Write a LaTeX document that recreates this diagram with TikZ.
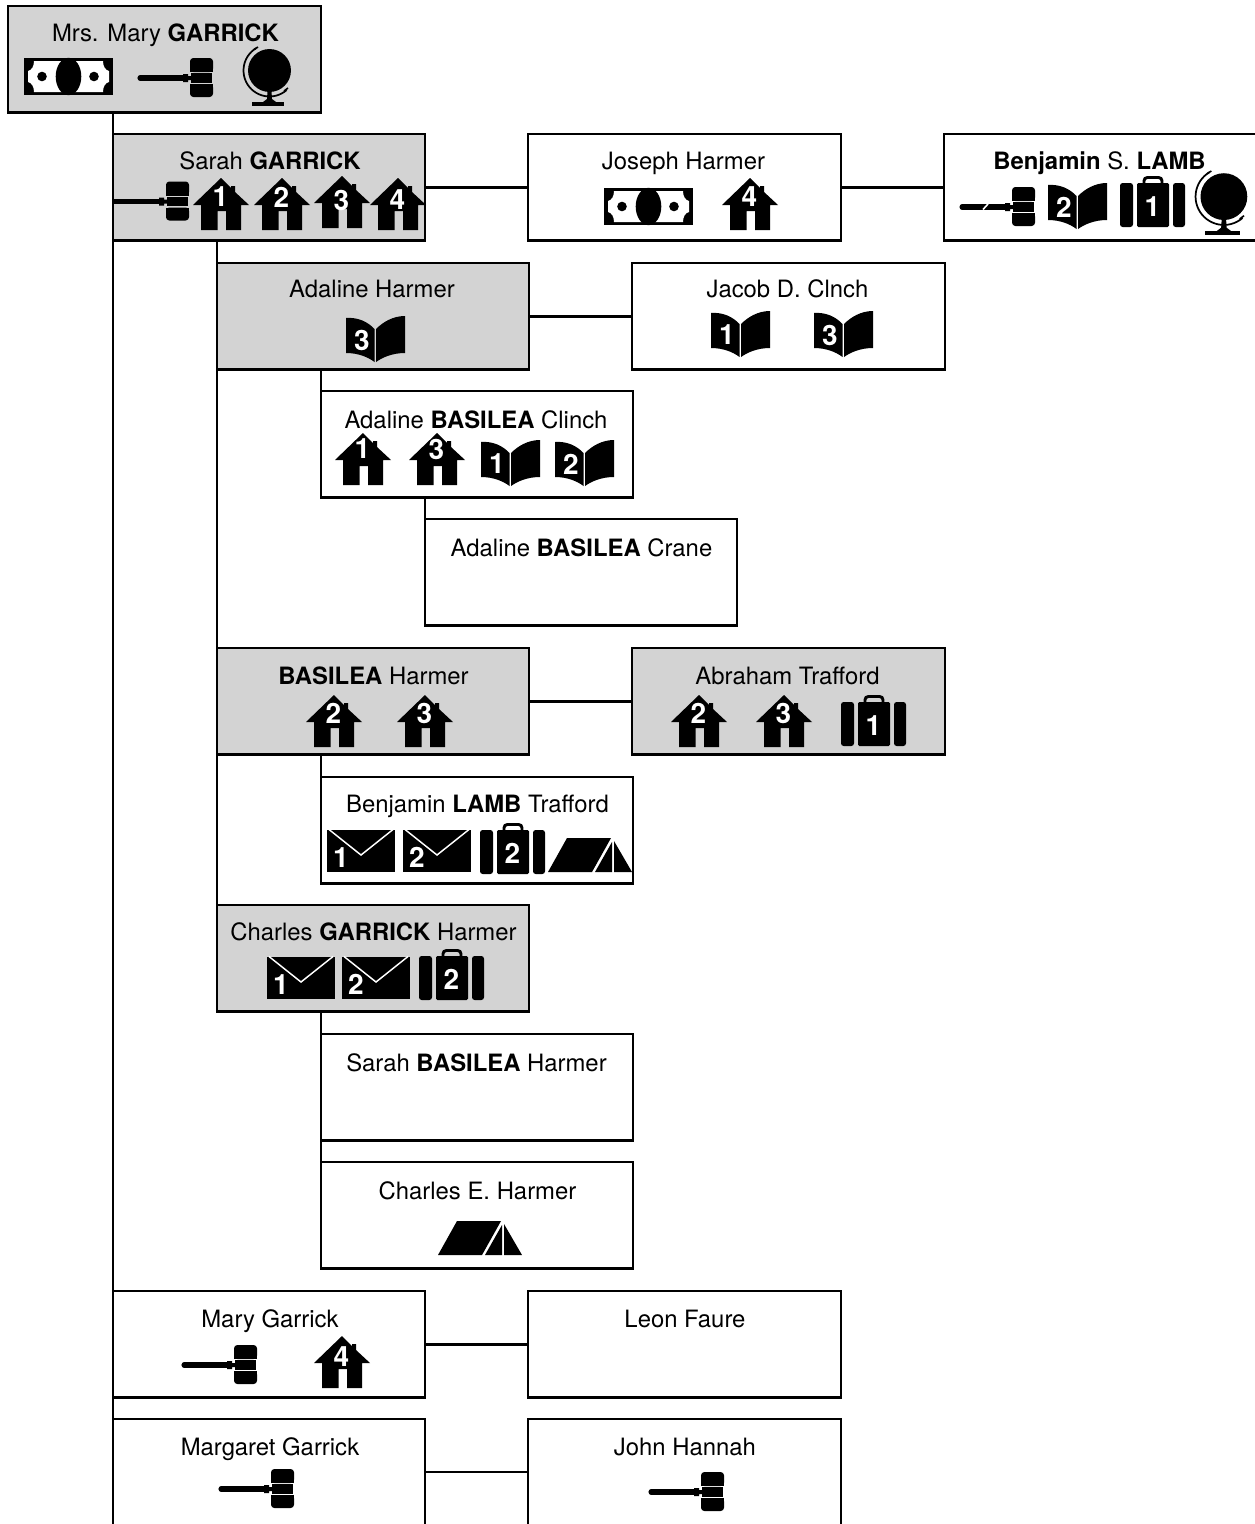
\documentclass[tikz,border=0pt]{standalone}
\usepackage{fontspec}
\setmainfont{TeX Gyre Heros}
\usetikzlibrary{calc}
\definecolor{boxgray}{HTML}{D3D3D3}
\newcommand{\hy}{21}
\tikzset{
  x=0.75pt,y=-0.75pt,
  person/.style={draw=black,line width=1.9pt,fill=white,anchor=north west,inner sep=0pt,outer sep=0pt,minimum width=234pt,minimum height=80pt},
  shaded/.style={fill=boxgray},
  wide/.style={minimum width=234.7pt},
  tall/.style={minimum height=96pt},
  nm/.style={anchor=base,inner sep=0pt,font=\fontsize{17.9}{20}\selectfont},
  num/.style={text=white,inner sep=0pt,font=\fontsize{21}{23}\selectfont\bfseries},
  link/.style={draw=black,line width=1.9pt},
  gavelicon/.pic={
    \draw[black,line width=3.8pt,line cap=round] (2,20)--(47,20);
    \fill[black] (45,16)--(50,16)--(50,18)--(53,18)--(53,22)--(50,22)--(50,24)--(45,24)--cycle;
    \fill[black,rounded corners=2.5pt] (52,14)--(52,0)--(75,0)--(75,14)--cycle;
    \fill[black,rounded corners=2.5pt] (52,26)--(52,39)--(75,39)--(75,26)--cycle;
    \fill[black] (53,15.2) rectangle (74,24.8);
    \fill[black] (52,8) rectangle (75,14);
    \fill[black] (52,26) rectangle (75,32);
  },
  houseicon/.pic={
    \fill[black] (28,0)--(38,10)--(38,8)--(42,8)--(42,14)--(56,27)--(48,27)--(48,52)--(33,52)--(33,33)--(24.5,33)--(24.5,52)--(8,52)--(8,27)--(0,27)--cycle;
    \node[num] (num) at (27.5,\hy) {#1};
  },
  bookicon/.pic={
    \fill[black] (0,2) .. controls (12,1) and (22,6) .. (28.5,13)--(28.5,46) .. controls (22,41) and (12,37) .. (0,37)--cycle;
    \fill[black] (59,0) .. controls (47,0) and (37,6) .. (30,13)--(30,46) .. controls (37,41) and (47,37) .. (59,37)--cycle;
    \node[num] (num) at (16,24) {#1};
  },
  caseicon/.pic={
    \fill[black,rounded corners=2pt] (0,7) rectangle (13,51);
    \fill[black,rounded corners=2pt] (53,7) rectangle (65,51);
    \fill[black,rounded corners=1pt] (17,7) rectangle (49,51);
    \draw[black,line width=2.2pt,rounded corners=2.5pt] (24,8)--(24,1.5)--(42,1.5)--(42,8);
    \node[num] (num) at (32.5,30.5) {#1};
  },
  mailicon/.pic={
    \fill[black] (0,0) rectangle (68,42);
    \draw[white,line width=1.1pt] (2,-0.5)--(34,25)--(66,-0.5);
    \node[num,anchor=base] (num) at (14,37) {#1};
  },
  tenticon/.pic={
    \fill[black] (0,34)--(19,0)--(63,0)--(44,34)--cycle;
    \fill[black] (64,4)--(64,34)--(47,34)--cycle;
    \fill[black] (66,3)--(84,34)--(66,34)--cycle;
  },
  moneyicon/.pic={
    \fill[black] (0,0) rectangle (89,37);
    \fill[white] (10,3)--(79,3) .. controls (79,8) and (81,12) .. (85,13)--(85,24) .. controls (81,25) and (79,29) .. (79,34)--(10,34) .. controls (10,29) and (8,25) .. (4,24)--(4,13) .. controls (8,12) and (10,8) .. (10,3)--cycle;
    \fill[black] (44.5,18.5) ellipse[x radius=9.6pt,y radius=14pt];
    \fill[black] (18,18.5) circle[radius=3.6pt];
    \fill[black] (70,18.5) circle[radius=3.6pt];
  },
  globeicon/.pic={
    \fill[black] (26.5,23.5) circle[radius=16.1pt];
    \draw[black,line width=1.3pt] plot[domain=49:239,samples=30] ({26.5+26*cos(\x)},{23.5+26*sin(\x)});
    \draw[black,line width=1.2pt] (11,2.5)--(15,0);
    \draw[black,line width=1.2pt] (41,44)--(45,41);
    \fill[black] (24.5,44)--(28.5,44)--(29,52)--(33,55)--(20,55)--(24,52)--cycle;
    \fill[black] (9,55) rectangle (41,59);
  }
}
\newcommand{\person}[6][]{%
  \node[person,#1] (#2) at (#3,#4) {};
  \node[nm] (#2t) at ($(#2.north)+(#6)$) {#5};
}
\newcommand{\hs}[4]{\renewcommand{\hy}{#4}\pic at (#1,#2) {houseicon=#3};}
\begin{document}
\begin{tikzpicture}
\useasboundingbox (0,0) rectangle (1255,1524);
\begin{scope}
\clip (0,0) rectangle (1255,1524);
% boxes
\person[shaded,wide]{mary}{8}{6}{Mrs. Mary \textbf{GARRICK}}{1,35}
\person[shaded]{sarah}{113}{134}{Sarah \textbf{GARRICK}}{1,35}
\person[wide]{joseph}{528}{134}{Joseph Harmer}{-1,35}
\person[wide]{benjamin}{944}{134}{\textbf{Benjamin} S. \textbf{LAMB}}{-1,35}
\person[shaded]{adaline}{217}{263}{Adaline Harmer}{-1,34}
\person[wide]{jacob}{632}{263}{Jacob D. Clnch}{-1,34}
\person{clinch}{321}{391}{Adaline \textbf{BASILEA} Clinch}{-1,37}
\person{crane}{425}{519}{Adaline \textbf{BASILEA} Crane}{0.5,37}
\person[shaded]{basilea}{217}{648}{\textbf{BASILEA} Harmer}{0.5,36}
\person[shaded,wide]{abraham}{632}{648}{Abraham Trafford}{-1,36}
\person{lamb}{321}{777}{Benjamin \textbf{LAMB} Trafford}{0.5,35}
\person[shaded]{charles}{217}{905}{Charles \textbf{GARRICK} Harmer}{0.5,35}
\person{sarahb}{321}{1034}{Sarah \textbf{BASILEA} Harmer}{-0.5,37}
\person{charlese}{321}{1162}{Charles E. Harmer}{0.5,37}
\person{maryg}{113}{1291}{Mary Garrick}{1,36}
\person[wide]{leon}{528}{1291}{Leon Faure}{0.5,36}
\person[tall]{margaret}{113}{1419}{Margaret Garrick}{1,36}
\person[tall,wide]{john}{528}{1419}{John Hannah}{0.5,36}
% connectors
\draw[link] (mary.south -| sarah.west) -- (margaret.south west);
\draw[link] (sarah.south -| adaline.west) -- (charles.north west);
\draw[link] (adaline.south -| clinch.west) -- (clinch.north west);
\draw[link] (basilea.south -| lamb.west) -- (lamb.north west);
\draw[link] (charles.south -| sarahb.west) -- (charlese.north west);
\draw[link] (clinch.south -| crane.west) -- (crane.north west);
\draw[link] (sarah.east) -- (joseph.west);
\draw[link] (joseph.east) -- (benjamin.west);
\draw[link] (adaline.east) -- (jacob.west);
\draw[link] (basilea.east) -- (abraham.west);
\draw[link] (maryg.east) -- (leon.west);
\draw[link] (margaret.east |- 0,1472) -- (john.west |- 0,1472);
% icons
\pic at (24,58) {moneyicon};
\pic at (138,58) {gavelicon};
\pic at (243,47) {globeicon};

\pic at (114,181.5) {gavelicon};
\draw[black,line width=4.4pt] (113,201.5)--(150,201.5);
\hs{193}{178}{1}{19}
\hs{254}{178}{2}{19}
\hs{314}{176}{3}{24}
\hs{370}{178}{4}{22}

\pic at (604,188) {moneyicon};
\hs{722}{178}{4}{19}

\pic at (960,187) {gavelicon};
\draw[white,line width=1.2pt] (983,209.5)--(988,204);
\pic at (1048,183) {bookicon=2};
\pic at (1120,176) {caseicon=1};
\pic[scale=1.09] at (1195,171) {globeicon};

\pic at (346,316) {bookicon=3};
\pic at (711,311) {bookicon=1};
\pic at (814,311) {bookicon=3};

\hs{335}{433}{1}{16}
\hs{409}{433}{3}{16}
\pic at (481,440) {bookicon=1};
\pic at (555,440) {bookicon=2};

\hs{306}{695}{2}{18}
\hs{397}{695}{3}{18}

\hs{671}{695}{2}{18}
\hs{756}{695}{3}{18}
\pic at (841,695) {caseicon=1};

\pic at (327,830) {mailicon=1};
\pic at (403,830) {mailicon=2};
\pic at (480,823) {caseicon=2};
\pic at (548,838) {tenticon};

\pic at (267,957) {mailicon=1};
\pic at (342,957) {mailicon=2};
\pic at (419,949) {caseicon=2};

\pic at (438,1221) {tenticon};

\pic at (182,1345) {gavelicon};
\hs{314}{1336}{4}{21}

\pic at (219,1469) {gavelicon};
\pic at (649,1472) {gavelicon};
\end{scope}
\end{tikzpicture}
\end{document}
